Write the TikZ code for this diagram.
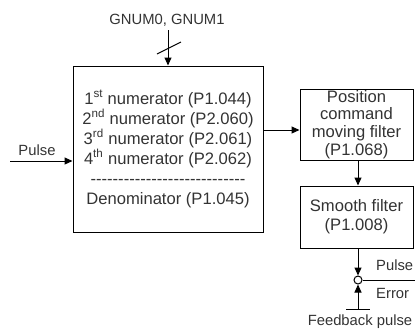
\documentclass[tikz,border=0pt]{standalone}
\usepackage{fontspec}
\setmainfont{Liberation Sans}
\usetikzlibrary{arrows.meta}
\definecolor{txt}{HTML}{333333}
\tikzset{
  box/.style={draw=black, line width=1pt, align=center, inner sep=0pt, text=txt},
  arr/.style={draw=black, line width=1pt, -{Triangle[length=8pt,width=7pt]}},
  ln/.style={draw=black, line width=1pt},
  lbl/.style={text=txt, inner sep=0pt, font=\fontsize{14.8}{17}\selectfont},
}
\begin{document}
\begin{tikzpicture}[x=1pt,y=-1pt]
\useasboundingbox (0,0) rectangle (415,333);
% main box
\node[box, minimum width=190pt, minimum height=166pt, font=\fontsize{16.6}{20}\selectfont] (gear) at (168,149)
 {1\textsuperscript{st} numerator (P1.044)\\
  2\textsuperscript{nd} numerator (P2.060)\\
  3\textsuperscript{rd} numerator (P2.061)\\
  4\textsuperscript{th} numerator (P2.062)\\
  -{}-{}-{}-{}-{}-{}-{}-{}-{}-{}-{}-{}-{}-{}-{}-{}-{}-{}-{}-{}-{}-{}-{}-{}-{}-{}-{}-{}\\
  Denominator (P1.045)};
% filter boxes
\node[box, minimum width=113pt, minimum height=71pt, font=\fontsize{16.6}{17.8}\selectfont] (pos) at (356.5,124.5)
 {Position\\command\\moving filter\\(P1.068)};
\node[box, minimum width=113pt, minimum height=62pt, font=\fontsize{16.6}{19}\selectfont] (smooth) at (356.5,217)
 {Smooth filter\\(P1.008)};
% GNUM input
\node[lbl] (gnum) at (167,20) {GNUM0, GNUM1};
\coordinate (gtop) at (168,30);
\draw[arr] (gtop) -- (gtop |- gear.north);
\coordinate (s1) at (157,54);
\coordinate (s2) at (181,42);
\draw[ln] (s1) -- (s2);
% Pulse input
\coordinate (pin) at (10,161);
\draw[arr] (pin) -- (pin -| gear.west);
\node[lbl] (plab) at (37,150) {Pulse};
% main -> position
\coordinate (mo) at (263,130);
\draw[arr] (mo) -- (mo -| pos.west);
% position -> smooth
\coordinate (ps) at (358,160);
\draw[arr] (ps) -- (ps |- smooth.north);
% summing junction
\node[circle, draw=black, line width=1pt, minimum size=8pt, inner sep=0pt] (sum) at (358,280) {};
\draw[arr] (sum |- smooth.south) -- (sum.north);
\coordinate (out) at (415,280);
\draw[ln] (sum.east) -- (out);
\coordinate (fb) at (358,309);
\coordinate (b1) at (346,309);
\coordinate (b2) at (370,309);
\draw[ln] (b1) -- (b2);
\draw[arr] (fb) -- (sum.south);
\node[lbl, anchor=west] (pl) at (376,265) {Pulse};
\node[lbl, anchor=west] (el) at (376,293) {Error};
\node[lbl] (fl) at (360,322) {Feedback pulse};
\end{tikzpicture}
\end{document}
